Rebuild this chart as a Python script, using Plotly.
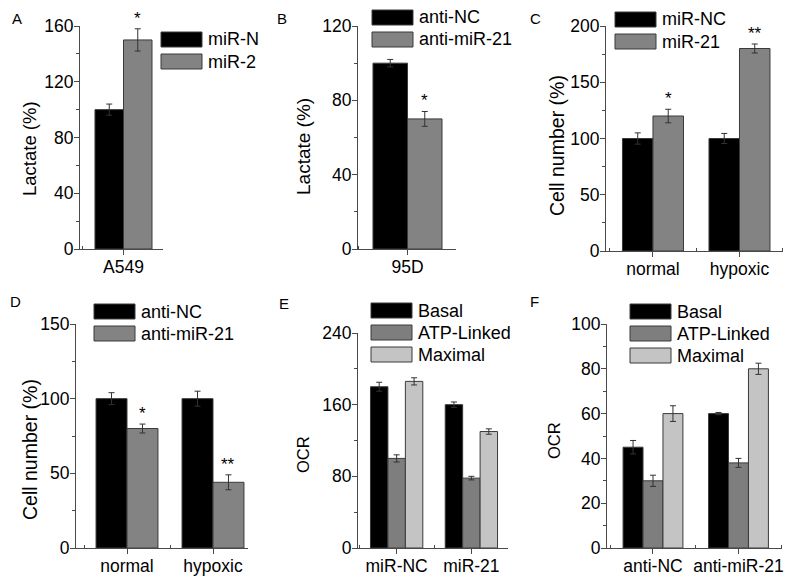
import plotly.graph_objects as go

W, H = 793, 580

# ---------------- data ----------------
a_cats = ["A549"]
a_series = ["miR-N", "miR-2"]
a_vals = [[100], [150]]
a_errs = [[4], [8]]
a_stars = [[""], ["*"]]

b_cats = ["95D"]
b_series = ["anti-NC", "anti-miR-21"]
b_vals = [[100], [70]]
b_errs = [[2], [4]]
b_stars = [[""], ["*"]]

c_cats = ["normal", "hypoxic"]
c_series = ["miR-NC", "miR-21"]
c_vals = [[100, 100], [120, 180]]
c_errs = [[5, 4.5], [6, 4]]
c_stars = [["", ""], ["*", "**"]]

d_cats = ["normal", "hypoxic"]
d_series = ["anti-NC", "anti-miR-21"]
d_vals = [[100, 100], [80, 44]]
d_errs = [[4, 5], [3, 5]]
d_stars = [["", ""], ["*", "**"]]

e_cats = ["miR-NC", "miR-21"]
e_series = ["Basal", "ATP-Linked", "Maximal"]
e_vals = [[180, 160], [100, 78], [186, 130]]
e_errs = [[5, 3], [4, 2], [4, 3]]

f_cats = ["anti-NC", "anti-miR-21"]
f_series = ["Basal", "ATP-Linked", "Maximal"]
f_vals = [[45, 60], [30, 38], [60, 80]]
f_errs = [[3, 0.5], [2.5, 2], [3.5, 2.5]]

two_colors = ["#000000", "#838383"]
three_colors = ["#000000", "#7e7e7e", "#c4c4c4"]

FONT = "Liberation Sans, Arial, sans-serif"
AX = "#4a4a4a"

panels = [
    dict(letter="A", cats=a_cats, series=a_series, vals=a_vals, errs=a_errs, stars=a_stars,
         colors=two_colors, title="Lactate (%)", tsize=18.5, tpos=(29, 148),
         yr=[0, 160], dt=40, mdt=20,
         L=80, R=163, B=249, T=26, xr=[-0.534, 0.485], gw=0.7,
         leg=(161, 32), lx=(10, 8)),
    dict(letter="B", cats=b_cats, series=b_series, vals=b_vals, errs=b_errs, stars=b_stars,
         colors=two_colors, title="Lactate (%)", tsize=19, tpos=(303, 147),
         yr=[0, 120], dt=40, mdt=20,
         L=358, R=456, B=249, T=26, xr=[-0.502, 0.492], gw=0.7,
         leg=(372, 10), lx=(275, 8)),
    dict(letter="C", cats=c_cats, series=c_series, vals=c_vals, errs=c_errs, stars=c_stars,
         colors=two_colors, title="Cell number (%)", tsize=19.5, tpos=(557, 146),
         yr=[0, 200], dt=50, mdt=25,
         L=606, R=783, B=251, T=26, xr=[-0.543, 1.503], gw=0.705,
         leg=(615, 12), lx=(528, 8)),
    dict(letter="D", cats=d_cats, series=d_series, vals=d_vals, errs=d_errs, stars=d_stars,
         colors=two_colors, title="Cell number (%)", tsize=19.5, tpos=(30, 450),
         yr=[0, 150], dt=50, mdt=25,
         L=76, R=248, B=548, T=324, xr=[-0.593, 1.407], gw=0.72,
         leg=(94, 304), lx=(8, 291)),
    dict(letter="E", cats=e_cats, series=e_series, vals=e_vals, errs=e_errs, stars=None,
         colors=three_colors, title="OCR", tsize=16.5, tpos=(303, 455),
         yr=[0, 240], dt=80, mdt=40,
         L=358, R=508, B=548, T=333, xr=[-0.517, 1.49], gw=0.70,
         leg=(371, 303), lx=(277, 293)),
    dict(letter="F", cats=f_cats, series=f_series, vals=f_vals, errs=f_errs, stars=None,
         colors=three_colors, title="OCR", tsize=16.5, tpos=(554, 441),
         yr=[0, 100], dt=20, mdt=10,
         L=607, R=782, B=548, T=324, xr=[-0.538, 1.509], gw=0.70,
         leg=(630, 304), lx=(528, 291)),
]

fig = go.Figure()
layout = {}
annotations = []
shapes = []

for k, p in enumerate(panels):
    i = k + 1
    xa = "x" if i == 1 else f"x{i}"
    ya = "y" if i == 1 else f"y{i}"
    xkey = "xaxis" if i == 1 else f"xaxis{i}"
    ykey = "yaxis" if i == 1 else f"yaxis{i}"
    n = len(p["series"])
    bw = p["gw"] / n
    xs = list(range(len(p["cats"])))
    for s in range(n):
        off = -p["gw"] / 2 + s * bw
        fig.add_trace(go.Bar(
            x=xs, y=p["vals"][s], name=p["series"][s],
            width=bw, offset=off,
            marker=dict(color=p["colors"][s], line=dict(color="#3a3a3a", width=1)),
            error_y=dict(type="data", array=p["errs"][s], visible=True,
                         color="#333333", thickness=1, width=3),
            xaxis=xa, yaxis=ya, showlegend=False,
        ))
        if p["stars"]:
            for j, st in enumerate(p["stars"][s]):
                if st:
                    annotations.append(dict(
                        x=xs[j] + off + bw / 2, y=p["vals"][s][j] + p["errs"][s][j],
                        xref=xa, yref=ya, text=st, showarrow=False,
                        yanchor="bottom", xanchor="center", yshift=-1,
                        font=dict(family=FONT, size=17, color="#000")))
    ncat = len(p["cats"])
    layout[xkey] = dict(
        domain=[p["L"] / W, p["R"] / W], anchor=ya, range=p["xr"],
        tickmode="array", tickvals=xs, ticktext=p["cats"],
        ticks="outside", ticklen=5, tickwidth=1, tickcolor=AX,
        ticklabelstandoff=-3,
        showline=True, linecolor=AX, linewidth=1, showgrid=False, zeroline=False,
        tickfont=dict(family=FONT, size=17.5, color="#000"),
        minor=dict(tickmode="array", tickvals=[x + 0.5 for x in range(-1, ncat)],
                   ticks="inside", ticklen=3, tickcolor=AX, showgrid=False),
        fixedrange=True, automargin=False,
    )
    layout[ykey] = dict(
        domain=[1 - p["B"] / H, 1 - p["T"] / H], anchor=xa, range=p["yr"],
        tickmode="linear", tick0=0, dtick=p["dt"],
        ticks="outside", ticklen=5, tickwidth=1, tickcolor=AX,
        ticklabelstandoff=-3,
        showline=True, linecolor=AX, linewidth=1, showgrid=False, zeroline=False,
        tickfont=dict(family=FONT, size=17.5, color="#000"),
        minor=dict(tick0=0, dtick=p["mdt"], ticks="outside", ticklen=3,
                   tickcolor=AX, showgrid=False),
        fixedrange=True, automargin=False,
    )
    # y-axis title
    annotations.append(dict(x=p["tpos"][0] / W, y=1 - p["tpos"][1] / H, xref="paper", yref="paper",
                            text=p["title"], textangle=-90, showarrow=False,
                            xanchor="center", yanchor="middle",
                            font=dict(family=FONT, size=p["tsize"], color="#000")))
    # legend (manual, large swatches)
    lx0, ly0 = p["leg"]
    for s in range(n):
        y0 = ly0 + s * 22
        shapes.append(dict(type="rect", xref="paper", yref="paper",
                           x0=lx0 / W, x1=(lx0 + 41) / W,
                           y0=1 - (y0 + 15) / H, y1=1 - y0 / H,
                           fillcolor=p["colors"][s], line=dict(color="#3a3a3a", width=1)))
        annotations.append(dict(x=(lx0 + 45) / W, y=1 - (y0 + 7.5) / H,
                                xref="paper", yref="paper", text=p["series"][s],
                                showarrow=False, xanchor="left", yanchor="middle",
                                font=dict(family=FONT, size=18, color="#000")))
    # panel letter
    annotations.append(dict(x=p["lx"][0] / W, y=1 - p["lx"][1] / H, xref="paper", yref="paper",
                            text=p["letter"], showarrow=False, xanchor="left", yanchor="top",
                            font=dict(family=FONT, size=15, color="#000")))

fig.update_layout(
    width=W, height=H, margin=dict(l=0, r=0, t=0, b=0),
    paper_bgcolor="white", plot_bgcolor="white",
    barmode="overlay", showlegend=False, hovermode=False,
    annotations=annotations, shapes=shapes,
    **layout,
)

fig.write_html(
    "out.html",
    config={"displayModeBar": False, "staticPlot": True},
    post_script="document.body.style.margin='0';document.body.style.overflow='hidden';",
)
